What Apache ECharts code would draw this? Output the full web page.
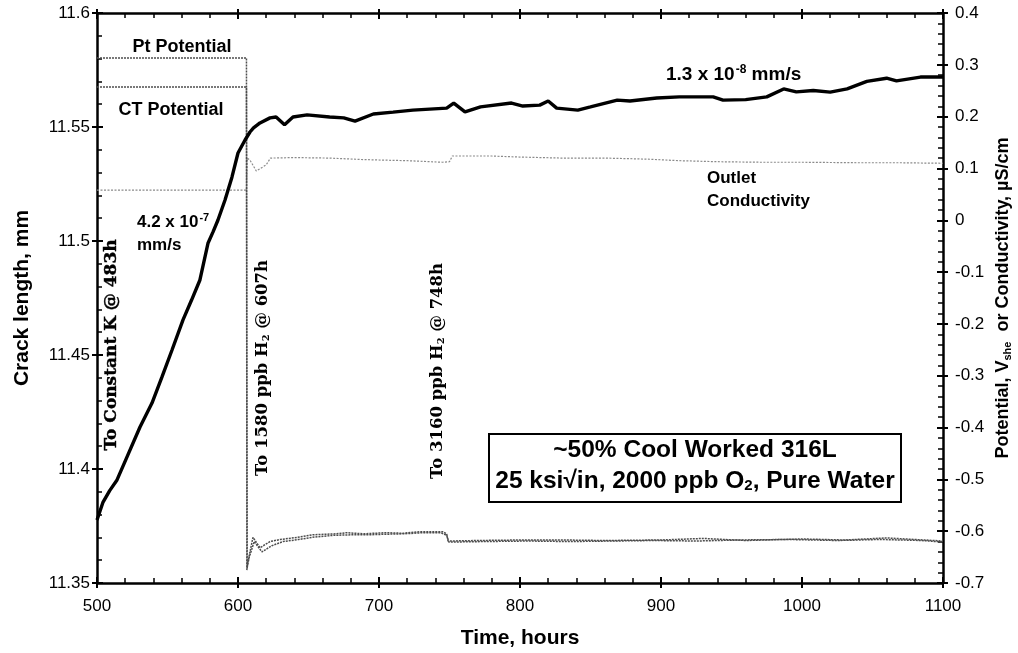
<!DOCTYPE html>
<html>
<head>
<meta charset="utf-8">
<script src="https://cdn.jsdelivr.net/npm/echarts@6/dist/echarts.min.js"></script>
<style>
html,body{margin:0;padding:0;background:#fff;}
#chart{width:1018px;height:653px;}
</style>
</head>
<body>
<div id="chart"></div>
<script>
// ---- Data ----
const crackHours = [500, 504.3, 509, 514.2, 521.3, 530.5, 539, 546.1, 553.2, 561, 567, 573, 578.7, 582.3, 585.8, 590.8, 595.7, 600, 605, 608.5, 611, 615.6, 622.7, 627, 633, 639, 649, 665, 675, 683, 696, 710, 724, 748, 753, 761, 772, 794, 802, 814, 820, 826, 841, 850, 869, 878, 897, 913, 937, 944, 960, 975, 987, 996, 1008, 1020, 1032, 1046, 1060, 1067, 1084, 1100];
const crackLength = [11.3776, 11.3855, 11.3905, 11.3952, 11.4053, 11.4184, 11.4289, 11.4404, 11.4522, 11.4654, 11.474, 11.4829, 11.499, 11.504, 11.5092, 11.518, 11.528, 11.5386, 11.5443, 11.5478, 11.5496, 11.5518, 11.554, 11.5544, 11.551, 11.5544, 11.5553, 11.5544, 11.554, 11.5526, 11.5557, 11.5565, 11.5574, 11.5583, 11.5605, 11.5566, 11.5588, 11.5605, 11.5592, 11.5596, 11.5614, 11.5583, 11.5574, 11.5588, 11.5618, 11.5614, 11.5627, 11.5632, 11.5632, 11.5618, 11.562, 11.5632, 11.5667, 11.5654, 11.566, 11.5653, 11.5667, 11.570, 11.5714, 11.5702, 11.5719, 11.5719];

const ptHours = [500, 606, 606.3, 607, 610.6, 615.6, 622.7, 630, 641.8, 653, 670, 677, 689, 705, 717, 729, 745, 748, 749, 770, 800, 830, 860, 900, 930, 960, 1000, 1030, 1060, 1080, 1100];
const ptPotential = [0.313, 0.313, -0.675, -0.66, -0.612, -0.632, -0.62, -0.616, -0.612, -0.607, -0.605, -0.603, -0.605, -0.603, -0.604, -0.601, -0.601, -0.605, -0.619, -0.618, -0.617, -0.617, -0.618, -0.617, -0.614, -0.618, -0.615, -0.617, -0.613, -0.616, -0.619];

const ctHours = [500, 606, 606.5, 608, 611.5, 617, 624, 632, 643, 655, 668, 680, 692, 703, 718, 731, 744, 748, 749.5, 775, 805, 835, 865, 895, 925, 955, 990, 1025, 1055, 1085, 1100];
const ctPotential = [0.257, 0.257, -0.67, -0.65, -0.62, -0.64, -0.628, -0.62, -0.616, -0.611, -0.608, -0.607, -0.607, -0.606, -0.605, -0.603, -0.603, -0.608, -0.621, -0.62, -0.619, -0.62, -0.619, -0.618, -0.619, -0.617, -0.616, -0.618, -0.616, -0.618, -0.621];

const condHours = [500, 606, 606.5, 608.5, 613, 620, 623, 640, 665, 690, 720, 745, 750, 752, 780, 800, 830, 860, 890, 913, 940, 970, 1000, 1040, 1070, 1100];
const conductivity = [0.058, 0.058, 0.12, 0.116, 0.095, 0.107, 0.12, 0.121, 0.12, 0.117, 0.115, 0.112, 0.113, 0.124, 0.124, 0.122, 0.12, 0.12, 0.118, 0.115, 0.113, 0.112, 0.112, 0.111, 0.111, 0.11];

const xTicks = {min: 500, max: 1100, interval: 100};
const leftTicks = {min: 11.35, max: 11.6, interval: 0.05};
const rightTicks = {min: -0.7, max: 0.4, interval: 0.1};

function pairs(xs, ys) { return xs.map((x, i) => [x, ys[i]]); }

const SANS = 'Arial, "Liberation Sans", Helvetica, sans-serif';
const SERIF = '"DejaVu Serif", "Liberation Serif", serif';
const lineW = 2.5;

const chart = echarts.init(document.getElementById('chart'), null, {renderer: 'canvas'});

const baseX = {
  type: 'value', min: xTicks.min, max: xTicks.max, interval: xTicks.interval,
  splitLine: {show: false}
};
const baseLeft = {
  type: 'value', min: leftTicks.min, max: leftTicks.max, interval: leftTicks.interval,
  splitLine: {show: false}
};
const baseRight = {
  type: 'value', min: rightTicks.min, max: rightTicks.max, interval: rightTicks.interval,
  splitLine: {show: false}
};

function sansText(text, x, y, size, align) {
  return {type: 'text', x: x, y: y, z: 10, style: {
    text: text, fontFamily: SANS, fontWeight: 'bold', fontSize: size, fill: '#000',
    align: align || 'left', verticalAlign: 'middle'}};
}
function supRich(size) {
  return {
    n: {fontFamily: SANS, fontWeight: 'bold', fontSize: size, fill: '#000', color: '#000'},
    s: {fontFamily: SANS, fontWeight: 'bold', fontSize: Math.round(size * 0.62), fill: '#000', color: '#000', verticalAlign: 'top', padding: [0, 0, Math.round(size * 0.55), 1]}
  };
}
function subRich(size, family) {
  return {
    n: {fontFamily: family, fontWeight: 'bold', fontSize: size, fill: '#000', color: '#000'},
    s: {fontFamily: family, fontWeight: 'bold', fontSize: Math.round(size * 0.62), fill: '#000', color: '#000', verticalAlign: 'bottom', padding: [Math.round(size * 0.4), 0, 0, 0]}
  };
}

const option = {
  backgroundColor: '#fff',
  animation: false,
  grid: {left: 97, right: 75, top: 13, bottom: 70, containLabel: false, outerBoundsMode: 'none'},
  xAxis: [
    Object.assign({}, baseX, {
      position: 'bottom',
      axisLine: {show: true, onZero: false, lineStyle: {color: '#000', width: lineW}},
      axisTick: {show: true, inside: true, length: 6, lineStyle: {color: '#000', width: 2}},
      minorTick: {show: true, splitNumber: 5, length: 5, lineStyle: {color: '#000', width: 1.5}},
      axisLabel: {show: true, margin: 15, fontSize: 17, color: '#000', fontFamily: SANS, formatter: v => String(v)},
      name: 'Time, hours', nameLocation: 'middle', nameGap: 45, nameMoveOverlap: false,
      nameTextStyle: {fontSize: 21, fontWeight: 'bold', color: '#000', fontFamily: SANS}
    }),
    Object.assign({}, baseX, {
      position: 'bottom',
      axisLine: {show: false, onZero: false},
      axisTick: {show: true, inside: false, length: 5, lineStyle: {color: '#000', width: 2}},
      axisLabel: {show: false}
    }),
    Object.assign({}, baseX, {
      position: 'top',
      axisLine: {show: true, onZero: false, lineStyle: {color: '#000', width: lineW}},
      axisTick: {show: true, inside: true, length: 6, lineStyle: {color: '#000', width: 2}},
      minorTick: {show: true, splitNumber: 5, length: 5, lineStyle: {color: '#000', width: 1.5}},
      axisLabel: {show: false}
    }),
    Object.assign({}, baseX, {
      position: 'top',
      axisLine: {show: false, onZero: false},
      axisTick: {show: true, inside: false, length: 4, lineStyle: {color: '#000', width: 2}},
      axisLabel: {show: false}
    })
  ],
  yAxis: [
    Object.assign({}, baseLeft, {
      position: 'left',
      axisLine: {show: true, onZero: false, lineStyle: {color: '#000', width: lineW}},
      axisTick: {show: true, inside: true, length: 6, lineStyle: {color: '#000', width: 2}},
      minorTick: {show: true, splitNumber: 5, length: 5, lineStyle: {color: '#000', width: 1.5}},
      axisLabel: {show: true, margin: 7, fontSize: 17, color: '#000', fontFamily: SANS,
        formatter: v => String(parseFloat(v.toFixed(2)))},
      name: 'Crack length, mm', nameLocation: 'middle', nameGap: 64, nameRotate: 90, nameMoveOverlap: false,
      nameTextStyle: {fontSize: 21, fontWeight: 'bold', color: '#000', fontFamily: SANS}
    }),
    Object.assign({}, baseRight, {
      position: 'right',
      axisLine: {show: true, onZero: false, lineStyle: {color: '#000', width: lineW}},
      axisTick: {show: true, inside: true, length: 6, lineStyle: {color: '#000', width: 2}},
      minorTick: {show: true, splitNumber: 5, length: 5, lineStyle: {color: '#000', width: 1.5}},
      axisLabel: {show: true, margin: 12, fontSize: 17, color: '#000', fontFamily: SANS,
        formatter: v => String(parseFloat(v.toFixed(1)))},
      name: '{n|Potential, V}{s|she}{n|  or Conductivity, µS/cm}',
      nameLocation: 'middle', nameGap: 51, nameRotate: 90, nameMoveOverlap: false,
      nameTextStyle: {
        color: '#000', fontFamily: SANS, fontWeight: 'bold', fontSize: 18,
        rich: {
          n: {fontSize: 18, fontWeight: 'bold', fontFamily: SANS, color: '#000'},
          s: {fontSize: 11, fontWeight: 'bold', fontFamily: SANS, color: '#000', verticalAlign: 'bottom', padding: [8, 0, 0, 0]}
        }
      }
    }),
    Object.assign({}, baseLeft, {
      position: 'left',
      axisLine: {show: false, onZero: false},
      axisTick: {show: true, inside: false, length: 5, lineStyle: {color: '#000', width: 2}},
      axisLabel: {show: false}
    }),
    Object.assign({}, baseRight, {
      position: 'right',
      axisLine: {show: false, onZero: false},
      axisTick: {show: true, inside: false, length: 5, lineStyle: {color: '#000', width: 2}},
      axisLabel: {show: false}
    })
  ],
  series: [
    {
      name: 'Outlet Conductivity', type: 'line', xAxisIndex: 0, yAxisIndex: 1,
      data: pairs(condHours, conductivity), showSymbol: false, symbol: 'none',
      lineStyle: {color: '#8a8a8a', width: 1.2, type: [2, 1.5]}, z: 2
    },
    {
      name: 'CT Potential', type: 'line', xAxisIndex: 0, yAxisIndex: 1,
      data: pairs(ctHours, ctPotential), showSymbol: false, symbol: 'none',
      lineStyle: {color: '#4d4d4d', width: 1.5, type: [2, 1]}, z: 3
    },
    {
      name: 'Pt Potential', type: 'line', xAxisIndex: 0, yAxisIndex: 1,
      data: pairs(ptHours, ptPotential), showSymbol: false, symbol: 'none',
      lineStyle: {color: '#4d4d4d', width: 1.5, type: [2, 1]}, z: 3
    },
    {
      name: 'Crack length', type: 'line', xAxisIndex: 0, yAxisIndex: 0,
      data: pairs(crackHours, crackLength), showSymbol: false, symbol: 'none',
      lineStyle: {color: '#000', width: 3.4}, z: 5
    }
  ],
  graphic: [
    sansText('Pt Potential', 182, 47, 18, 'center'),
    sansText('CT Potential', 171, 110, 18, 'center'),
    {type: 'text', x: 137, y: 222, z: 10, style: {
      text: '{n|4.2 x 10}{s|-7}', align: 'left', verticalAlign: 'middle', rich: supRich(17)
    }},
    sansText('mm/s', 137, 245, 17, 'left'),
    {type: 'text', x: 666, y: 75, z: 10, style: {
      text: '{n|1.3 x 10}{s|-8}{n| mm/s}', align: 'left', verticalAlign: 'middle', rich: supRich(19)
    }},
    sansText('Outlet', 707, 178, 17, 'left'),
    sansText('Conductivity', 707, 201, 17, 'left'),
    {type: 'text', x: 112, y: 345, rotation: Math.PI / 2, z: 10, style: {
      text: 'To Constant K @ 483h', fontFamily: SERIF, fontWeight: 'bold', fontSize: 17,
      fill: '#000', stroke: '#000', lineWidth: 0.4, align: 'center', verticalAlign: 'middle'}},
    {type: 'text', x: 263, y: 368, rotation: Math.PI / 2, z: 10, style: {
      text: '{n|To 1580 ppb H}{s|2}{n| @ 607h}', align: 'center', verticalAlign: 'middle', rich: subRich(16.5, SERIF)
    }},
    {type: 'text', x: 438, y: 371, rotation: Math.PI / 2, z: 10, style: {
      text: '{n|To 3160 ppb H}{s|2}{n| @ 748h}', align: 'center', verticalAlign: 'middle', rich: subRich(16.5, SERIF)
    }},
    {type: 'rect', z: 10, shape: {x: 489, y: 434, width: 412, height: 68}, style: {fill: '#fff', stroke: '#000', lineWidth: 2}},
    sansText('~50% Cool Worked 316L', 695, 450, 24.5, 'center'),
    {type: 'text', x: 695, y: 481, z: 11, style: {
      text: '{n|25 ksi√in, 2000 ppb O}{s|2}{n|, Pure Water}', align: 'center', verticalAlign: 'middle', rich: subRich(24.5, SANS)
    }}
  ]
};

chart.setOption(option);
</script>
</body>
</html>
